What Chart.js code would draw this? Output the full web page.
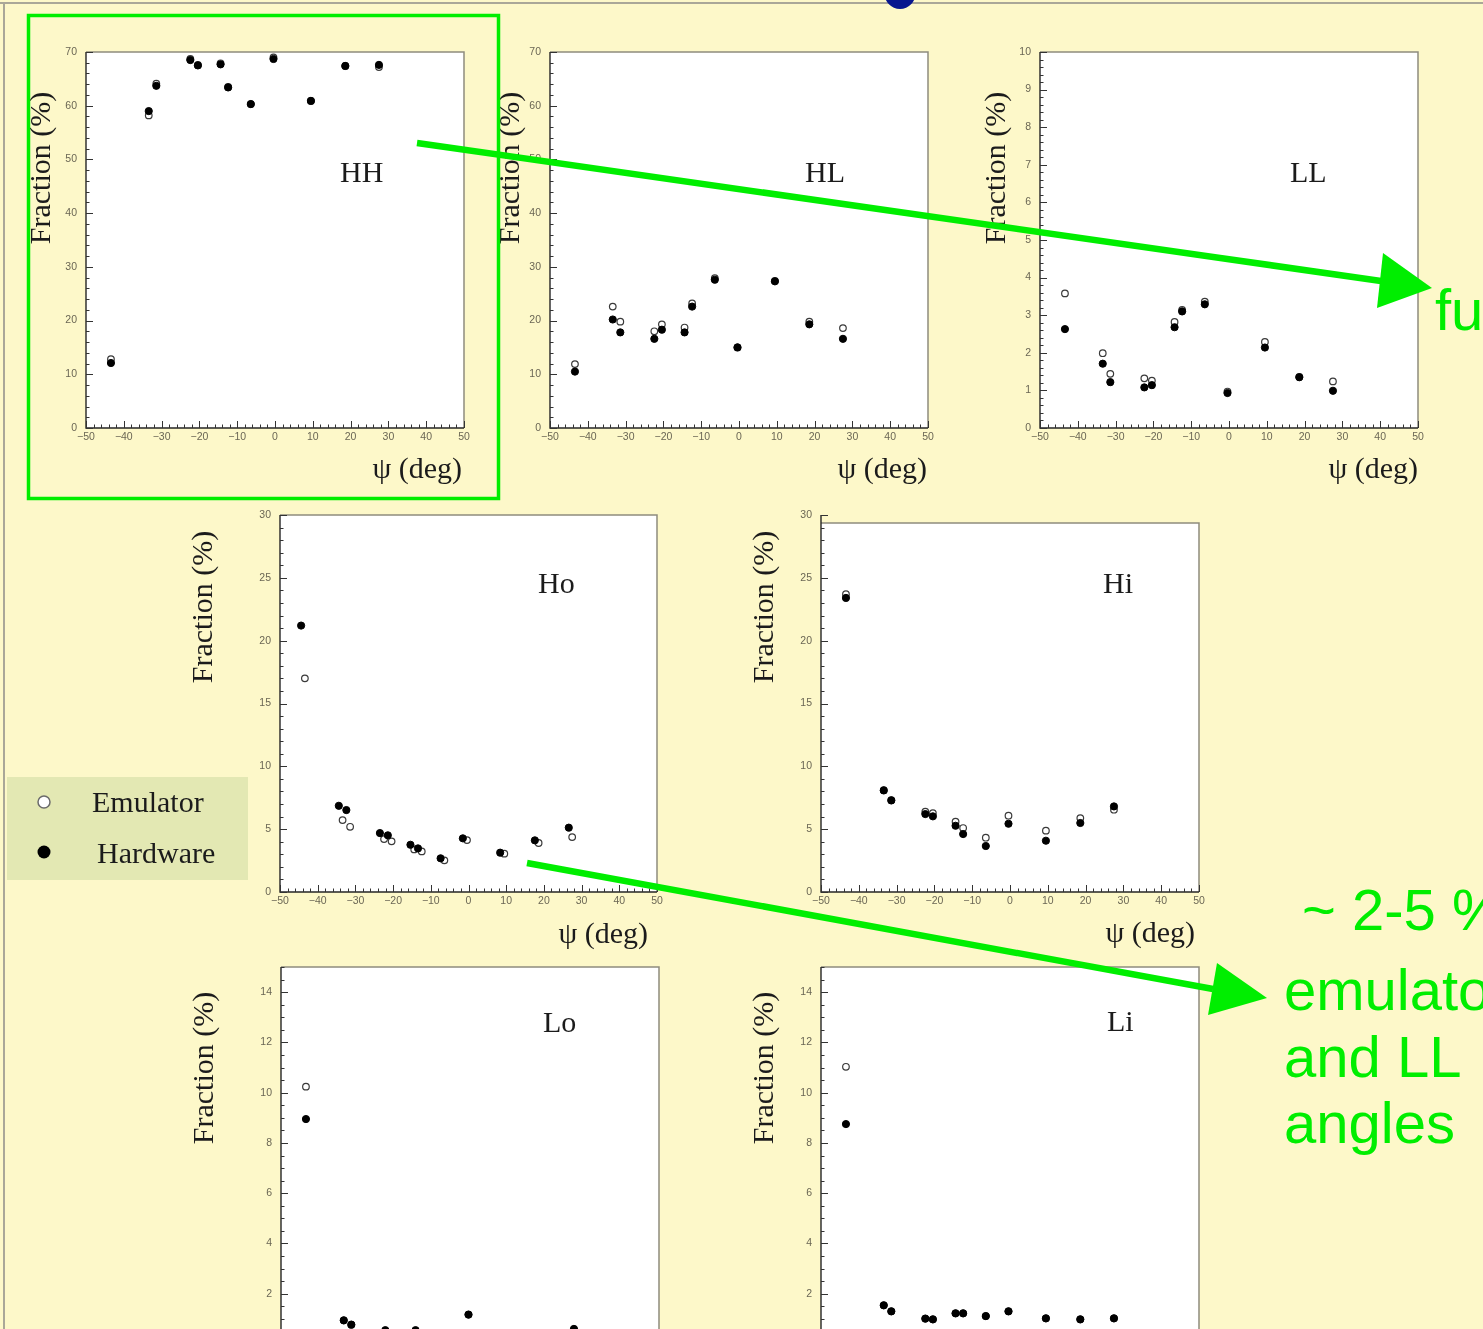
<!DOCTYPE html>
<html>
<head>
<meta charset="utf-8">
<script src="https://cdn.jsdelivr.net/npm/chart.js@4.4.1/dist/chart.umd.min.js"></script>
<style>
  html, body { margin: 0; padding: 0; }
  body { width: 1483px; height: 1329px; overflow: hidden; background: #fdf8c9; position: relative; }
  .panel { position: absolute; }
  .panel canvas { display: block; }
  #overlay { position: absolute; left: 0; top: 0; pointer-events: none; }
  .serif { font-family: 'Liberation Serif', 'Times New Roman', serif; font-size: 30px; fill: #1b1b1b; }
  .green { font-family: 'Liberation Sans', Arial, sans-serif; font-size: 58px; fill: #00ee00; }
</style>
</head>
<body>
<script>
// Scan angle psi (deg) at which the fractions were measured
const psi = [-43.4, -33.4, -31.4, -22.4, -20.4, -14.4, -12.4, -6.4, -0.4, 9.5, 18.6, 27.5];
// In the Ho plot the hardware points sit about one degree to the left
const psiHoHardware = [-44.4, -34.4, -32.4, -23.5, -21.4, -15.4, -13.4, -7.4, -1.5, 8.4, 17.6, 26.6];

// Fractions (%) per trigger class: emulator vs hardware
const hhEmulator = [12.8, 58.2, 64.1, 68.7, 67.6, 67.9, 63.5, 60.3, 69.0, 60.9, 67.4, 67.2];
const hhHardware = [12.1, 59.0, 63.7, 68.5, 67.5, 67.7, 63.4, 60.3, 68.7, 60.9, 67.4, 67.6];
const hlEmulator = [11.9, 22.6, 19.8, 18.0, 19.3, 18.7, 23.2, 27.9, 15.0, 27.4, 19.8, 18.6];
const hlHardware = [10.5, 20.2, 17.8, 16.6, 18.3, 17.8, 22.6, 27.6, 15.0, 27.3, 19.3, 16.6];
const llEmulator = [3.58, 1.99, 1.44, 1.32, 1.26, 2.82, 3.14, 3.36, 0.97, 2.29, 1.36, 1.24];
const llHardware = [2.63, 1.71, 1.22, 1.08, 1.14, 2.68, 3.10, 3.29, 0.93, 2.14, 1.35, 0.99];
const hoEmulator = [17.0, 5.72, 5.19, 4.21, 4.03, 3.39, 3.23, 2.52, 4.13, 3.05, 3.90, 4.37];
const hoHardware = [21.2, 6.86, 6.52, 4.69, 4.51, 3.76, 3.47, 2.68, 4.27, 3.13, 4.11, 5.12];
const hiEmulator = [23.7, 8.10, 7.30, 6.39, 6.28, 5.59, 5.09, 4.32, 6.07, 4.88, 5.88, 6.55];
const hiHardware = [23.4, 8.08, 7.29, 6.20, 6.02, 5.27, 4.61, 3.66, 5.43, 4.08, 5.49, 6.81];
const loEmulator = [10.24, 0.94, 0.77, 0.50, 0.30, 0.50, 0.30, 0.30, 1.17, 0.30, 0.30, 0.55];
const loHardware = [8.95, 0.94, 0.77, 0.55, 0.30, 0.55, 0.35, 0.30, 1.17, 0.30, 0.30, 0.60];
const liEmulator = [11.03, 1.54, 1.30, 1.01, 0.98, 1.22, 1.22, 1.11, 1.30, 1.02, 0.98, 1.02];
const liHardware = [8.75, 1.54, 1.30, 1.01, 0.98, 1.22, 1.22, 1.11, 1.30, 1.02, 0.98, 1.02];

// Axis ranges and tick spacing
const psiRange = [-50, 50];
const psiMajor = 10, psiMinor = 2;
const panelNames = ['HH', 'HL', 'LL', 'Ho', 'Hi', 'Lo', 'Li'];
const yMaxima    = [70, 70, 10, 30, 30, 15, 15];
const yMajorStep = [10, 10, 1, 5, 5, 2, 2];
const yMinorStep = [2, 2, 0.2, 1, 1, 0.5, 0.5];

const seriesByPanel = {
  HH: { emu: hhEmulator, hw: hhHardware, hwPsi: psi },
  HL: { emu: hlEmulator, hw: hlHardware, hwPsi: psi },
  LL: { emu: llEmulator, hw: llHardware, hwPsi: psi },
  Ho: { emu: hoEmulator, hw: hoHardware, hwPsi: psiHoHardware },
  Hi: { emu: hiEmulator, hw: hiHardware, hwPsi: psi },
  Lo: { emu: loEmulator, hw: loHardware, hwPsi: psi },
  Li: { emu: liEmulator, hw: liHardware, hwPsi: psi }
};

// Page layout: plot-area box [left, top, right, bottom] of each panel
const plotBoxes = {
  HH: [86, 52, 464, 428],
  HL: [550, 52, 928, 428],
  LL: [1040, 52, 1418, 428],
  Ho: [280, 515, 657, 892],
  Hi: [821, 515, 1199, 892],
  Lo: [281, 967, 659, 1344],
  Li: [821, 967, 1199, 1344]
};
const frameInset = { Hi: 8 };

// White plot area, frame and inward ROOT-style tick marks
const frameAndTicks = {
  id: 'frameAndTicks',
  beforeDraw(chart, args, o) {
    const { ctx, chartArea: a } = chart;
    ctx.save();
    ctx.fillStyle = '#ffffff';
    ctx.fillRect(a.left, a.top + o.inset, a.right - a.left, a.bottom - a.top - o.inset);
    ctx.restore();
  },
  beforeDatasetsDraw(chart, args, o) {
    const { ctx, chartArea: a, scales: { x, y } } = chart;
    ctx.save();
    ctx.strokeStyle = '#8f8c7e';
    ctx.lineWidth = 1.5;
    ctx.beginPath();
    ctx.moveTo(a.left, a.top + o.inset);
    ctx.lineTo(a.right, a.top + o.inset);
    ctx.lineTo(a.right, a.bottom);
    ctx.stroke();

    ctx.strokeStyle = '#262626';
    ctx.lineWidth = 1.4;
    ctx.beginPath();
    ctx.moveTo(a.left, a.top);
    ctx.lineTo(a.left, a.bottom);
    ctx.lineTo(a.right, a.bottom);
    ctx.stroke();

    const isMajor = (v, step) => Math.abs(v / step - Math.round(v / step)) < 1e-6;
    ctx.lineWidth = 1;
    ctx.strokeStyle = '#333333';
    ctx.beginPath();
    const nx = Math.round((x.max - x.min) / o.xMinor);
    for (let k = 0; k <= nx; k++) {
      const v = x.min + k * o.xMinor;
      const px = Math.round(x.getPixelForValue(v)) + 0.5;
      const len = isMajor(v, o.xMajor) ? 7 : 3.5;
      ctx.moveTo(px, a.bottom);
      ctx.lineTo(px, a.bottom - len);
    }
    const ny = Math.round((y.max - y.min) / o.yMinor);
    for (let k = 0; k <= ny; k++) {
      const v = y.min + k * o.yMinor;
      const py = Math.round(y.getPixelForValue(v)) + 0.5;
      const len = isMajor(v, o.yMajor) ? 7 : 3.5;
      ctx.moveTo(a.left, py);
      ctx.lineTo(a.left + len, py);
    }
    ctx.stroke();
    ctx.restore();
  }
};

const toPoints = (xs, ys) => xs.map((v, i) => ({ x: v, y: ys[i] }));
const tickFont = { family: "'Liberation Sans', Arial, sans-serif", size: 10.5 };
const tickColor = '#6a6654';

panelNames.forEach((name, i) => {
  const [L, T, R, B] = plotBoxes[name];
  // room kept round the plot area for tick labels (top/right must exceed the labels' own overhang)
  const padL = 50, padT = 18, padR = 18, padB = 26;
  const w = R - L + padL + padR, h = B - T + padT + padB;
  const wrap = document.createElement('div');
  wrap.className = 'panel';
  wrap.style.left = (L - padL) + 'px';
  wrap.style.top = (T - padT) + 'px';
  wrap.style.width = w + 'px';
  wrap.style.height = h + 'px';
  const cv = document.createElement('canvas');
  cv.width = w; cv.height = h;
  wrap.appendChild(cv);
  document.body.appendChild(wrap);

  const s = seriesByPanel[name];
  const yStep = yMajorStep[i];
  new Chart(cv, {
    type: 'scatter',
    data: {
      datasets: [
        { label: 'Hardware', data: toPoints(s.hwPsi, s.hw), pointRadius: 3.6,
          pointBackgroundColor: '#000000', pointBorderColor: '#000000', pointBorderWidth: 1 },
        { label: 'Emulator', data: toPoints(psi, s.emu), pointRadius: 3.3,
          pointBackgroundColor: '#ffffff', pointBorderColor: '#3a3a3a', pointBorderWidth: 1.2 }
      ]
    },
    options: {
      responsive: false,
      animation: false,
      events: [],
      layout: { padding: { left: 0, top: padT, right: padR, bottom: 0 } },
      plugins: {
        legend: { display: false },
        tooltip: { enabled: false },
        frameAndTicks: { inset: frameInset[name] || 0, xMajor: psiMajor, xMinor: psiMinor,
                         yMajor: yStep, yMinor: yMinorStep[i] }
      },
      scales: {
        x: {
          type: 'linear', min: psiRange[0], max: psiRange[1],
          afterFit: sc => { sc.height = padB; },
          grid: { display: false, drawTicks: false },
          border: { display: false },
          ticks: { stepSize: psiMajor, padding: 3, autoSkip: false, maxRotation: 0,
                   color: tickColor, font: tickFont,
                   callback: v => (v < 0 ? '\u2212' + (-v) : String(v)) }
        },
        y: {
          type: 'linear', min: 0, max: yMaxima[i],
          afterFit: sc => { sc.width = padL; },
          afterBuildTicks: sc => {
            sc.ticks = sc.ticks.filter(t => Math.abs(t.value / yStep - Math.round(t.value / yStep)) < 1e-6);
          },
          grid: { display: false, drawTicks: false },
          border: { display: false },
          ticks: { stepSize: yStep, padding: 9, color: tickColor, font: tickFont }
        }
      }
    },
    plugins: [frameAndTicks]
  });
});

// Text labels and annotations
const titleSpots = {
  // [baseline x of rotated "Fraction (%)", its centre y, right edge of "ψ (deg)", its baseline, panel label x, baseline]
  HH: [50, 168, 462, 478, 340, 182],
  HL: [519, 168, 927, 478, 805, 182],
  LL: [1005, 168, 1418, 478, 1290, 182],
  Ho: [212, 607, 648, 943, 538, 593],
  Hi: [773, 607, 1195, 942, 1103, 593],
  Lo: [213, 1068, null, null, 543, 1032],
  Li: [773, 1068, null, null, 1107, 1031]
};

const NS = 'http://www.w3.org/2000/svg';
const svg = document.createElementNS(NS, 'svg');
svg.setAttribute('id', 'overlay');
svg.setAttribute('width', 1483);
svg.setAttribute('height', 1329);
document.body.appendChild(svg);

function el(tag, attrs, text) {
  const e = document.createElementNS(NS, tag);
  for (const k in attrs) e.setAttribute(k, attrs[k]);
  if (text !== undefined) e.textContent = text;
  svg.appendChild(e);
  return e;
}

// slide edges and the tail of the heading glyph
el('rect', { x: 0, y: 2, width: 1483, height: 2, fill: '#aaa798' });
el('rect', { x: 3, y: 2, width: 2, height: 1329, fill: '#aaa798' });
el('ellipse', { cx: 900, cy: -8, rx: 16, ry: 17, fill: '#07168f' });

panelNames.forEach(name => {
  const [fx, fy, dx, dy, lx, ly] = titleSpots[name];
  el('text', { class: 'serif', 'text-anchor': 'middle', transform: `translate(${fx},${fy}) rotate(-90)` }, 'Fraction (%)');
  if (dx !== null) el('text', { class: 'serif', 'text-anchor': 'end', x: dx, y: dy }, '\u03c8 (deg)');
  el('text', { class: 'serif', x: lx, y: ly }, name);
});

// legend
el('rect', { x: 7, y: 777, width: 241, height: 103, fill: '#e3e8b3' });
el('circle', { cx: 44, cy: 802, r: 6, fill: '#ffffff', stroke: '#6b6b6b', 'stroke-width': 1.5 });
el('circle', { cx: 44, cy: 852, r: 6.5, fill: '#000000' });
el('text', { class: 'serif', x: 92, y: 812 }, 'Emulator');
el('text', { class: 'serif', x: 97, y: 863 }, 'Hardware');

// green highlights
const G = '#00ee00';
el('rect', { x: 28.5, y: 15.5, width: 470, height: 483, fill: 'none', stroke: G, 'stroke-width': 3.5 });
el('line', { x1: 417, y1: 143, x2: 1381, y2: 281, stroke: G, 'stroke-width': 6.5 });
el('polygon', { points: '1383,253 1377,308 1432,288', fill: G });
el('line', { x1: 527, y1: 863, x2: 1213, y2: 989, stroke: G, 'stroke-width': 6.5 });
el('polygon', { points: '1217,963 1208,1015 1267,998', fill: G });
el('text', { class: 'green', x: 1435, y: 330 }, 'fu');
el('text', { class: 'green', x: 1302, y: 930 }, '~ 2-5 %');
el('text', { class: 'green', x: 1284, y: 1010 }, 'emulato');
el('text', { class: 'green', x: 1284, y: 1077 }, 'and LL');
el('text', { class: 'green', x: 1284, y: 1143 }, 'angles');
</script>
</body>
</html>
